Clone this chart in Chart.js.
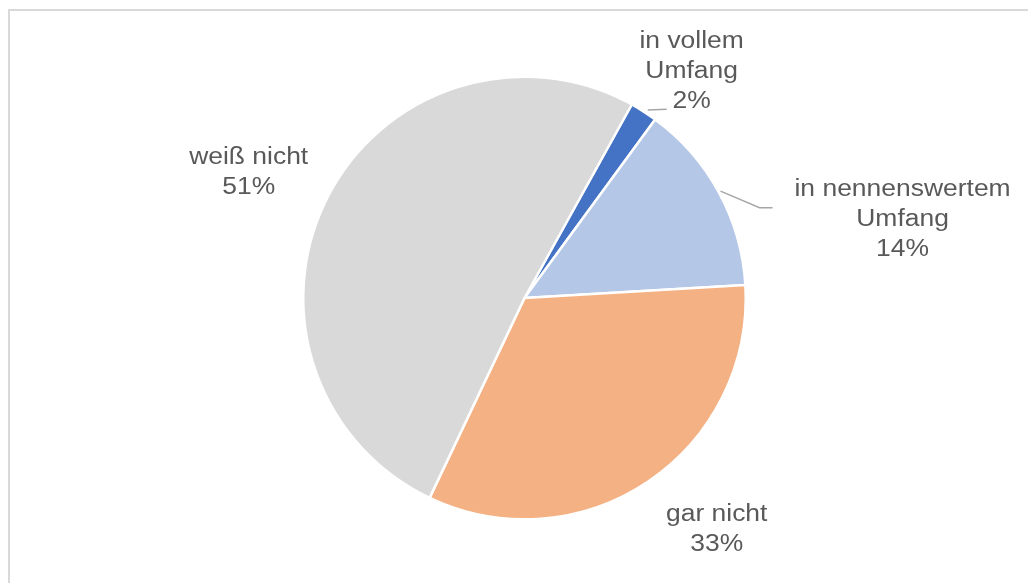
<!DOCTYPE html>
<html>
<head>
<meta charset="utf-8">
<script src="https://cdn.jsdelivr.net/npm/chart.js@4/dist/chart.umd.min.js"></script>
<style>
    html, body { margin: 0; padding: 0; background: #fff; }
    canvas { display: block; }
</style>
</head>
<body>
<canvas id="myChart" width="1028" height="583"></canvas>
<script>
// data
const categories = [['in vollem', 'Umfang'], ['in nennenswertem', 'Umfang'], ['gar nicht'], ['weiß nicht']];
const shares = [2, 14, 33, 51];
const sliceColors = ['#4472C4', '#B4C7E7', '#F4B183', '#D9D9D9'];

// where each label sits: angle (deg from top, clockwise) and distance in radii
const labelPlace = [
    { angle: 36.5, dist: 1.27 },
    { angle: 78.3, dist: 1.745 },
    { angle: 140.3, dist: 1.36 },
    { angle: 294.5, dist: 1.37 }
];

const lineHeight = 30;

const pieLabels = {
    id: 'pieLabels',
    beforeDraw(chart) {
        const ctx = chart.ctx;
        ctx.save();
        ctx.fillStyle = '#fff';
        ctx.fillRect(0, 0, chart.width, chart.height);
        // frame like the original (top + left only visible)
        ctx.strokeStyle = '#D9D9D9';
        ctx.lineWidth = 2;
        ctx.beginPath();
        ctx.moveTo(9, chart.height);
        ctx.lineTo(9, 10);
        ctx.lineTo(chart.width, 10);
        ctx.stroke();
        ctx.restore();
    },
    afterDraw(chart) {
        const ctx = chart.ctx;
        const arcs = chart.getDatasetMeta(0).data;
        ctx.save();
        ctx.font = '23px "Liberation Sans", Arial, sans-serif';
        ctx.fillStyle = '#595959';
        ctx.textAlign = 'center';
        ctx.textBaseline = 'middle';
        arcs.forEach((arc, i) => {
            const r = arc.outerRadius;
            const a = labelPlace[i].angle * Math.PI / 180;
            const cx = arc.x + Math.sin(a) * r * labelPlace[i].dist;
            const cy = arc.y - Math.cos(a) * r * labelPlace[i].dist;
            const lines = categories[i].concat([shares[i] + '%']);
            const top = cy - (lines.length - 1) * lineHeight / 2;
            lines.forEach((t, k) => {
                ctx.save();
                ctx.translate(cx, top + k * lineHeight);
                ctx.scale(1.15, 1);
                ctx.fillText(t, 0, 0);
                ctx.restore();
            });

            // leader lines for the two small slices
            const mid = (arc.startAngle + arc.endAngle) / 2;
            const ex = arc.x + Math.cos(mid) * (r + 2);
            const ey = arc.y + Math.sin(mid) * (r + 2);
            ctx.strokeStyle = '#A6A6A6';
            ctx.lineWidth = 1.5;
            if (i === 0) {
                ctx.beginPath();
                ctx.moveTo(ex + 3, ey);
                ctx.lineTo(cx - 25, cy + 37);
                ctx.stroke();
            } else if (i === 1) {
                ctx.beginPath();
                ctx.moveTo(ex, ey);
                ctx.lineTo(cx - 143, cy - 12);
                ctx.lineTo(cx - 130, cy - 12);
                ctx.stroke();
            }
        });
        ctx.restore();
    }
};

const ctx = document.getElementById('myChart').getContext('2d');
const myChart = new Chart(ctx, {
    type: 'pie',
    data: {
        labels: categories.map(c => c.join(' ')),
        datasets: [{
            data: shares,
            backgroundColor: sliceColors,
            borderColor: '#fff',
            borderWidth: 2.5
        }]
    },
    options: {
        responsive: false,
        animation: false,
        rotation: 29,
        layout: {
            padding: { left: 302, right: 281, top: 75, bottom: 62 }
        },
        plugins: {
            legend: { display: false },
            tooltip: { enabled: false }
        }
    },
    plugins: [pieLabels]
});
</script>
</body>
</html>
